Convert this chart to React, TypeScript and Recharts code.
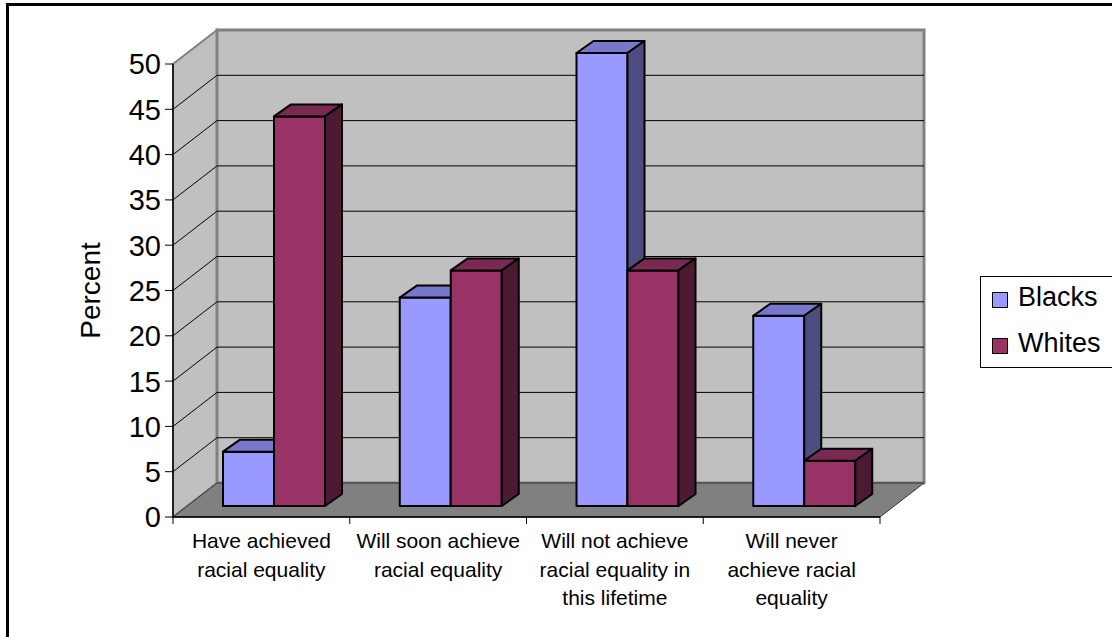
import React from "react";
import { BarChart, Bar, XAxis, YAxis, CartesianGrid } from "recharts";

const categories = [
  ["Have achieved", "racial equality"],
  ["Will soon achieve", "racial equality"],
  ["Will not achieve", "racial equality in", "this lifetime"],
  ["Will never", "achieve racial", "equality"],
];
const blacks = [6, 23, 50, 21];
const whites = [43, 26, 26, 5];
const yTicks = [0, 5, 10, 15, 20, 25, 30, 35, 40, 45, 50];

const series = [
  { key: "Blacks", values: blacks, front: "#9999ff", top: "#7777cc", side: "#4d4d80" },
  { key: "Whites", values: whites, front: "#993366", top: "#7a2952", side: "#4d1a33" },
];

const data = categories.map((lines, i) => ({
  name: lines.join(" "),
  Blacks: blacks[i],
  Whites: whites[i],
}));

// oblique offsets: whole plot box depth, bar row offset, single bar depth
const WALL_DX = 44;
const WALL_DY = 34;
const ROW_DX = 13;
const ROW_DY = 11;
const BAR_DX = 17;
const BAR_DY = 12;

const FONT = "'Liberation Sans', Arial, sans-serif";

// walls + floor drawn with the first grid line, then each line on the back wall and side wall
const gridLine = (p: any) => {
  const { x1, x2, y1, index, y, height } = p;
  const top = y;
  const bottom = y + height;
  const isEdge = Math.abs(y1 - top) < 0.5 || Math.abs(y1 - bottom) < 0.5;
  return (
    <g key={p.key ?? `g-${index}`}>
      {index === 0 && (
        <g>
          <polygon
            points={`${x1},${top} ${x1 + WALL_DX},${top - WALL_DY} ${x1 + WALL_DX},${bottom - WALL_DY} ${x1},${bottom}`}
            fill="#c0c0c0"
            stroke="#808080"
            strokeWidth={2}
          />
          <rect
            x={x1 + WALL_DX}
            y={top - WALL_DY}
            width={x2 - x1}
            height={height}
            fill="#c0c0c0"
            stroke="#808080"
            strokeWidth={3}
          />
          <polygon
            points={`${x1},${bottom} ${x1 + WALL_DX},${bottom - WALL_DY} ${x2 + WALL_DX},${bottom - WALL_DY} ${x2},${bottom}`}
            fill="#808080"
            stroke="#333"
            strokeWidth={1}
          />
        </g>
      )}
      {!isEdge && (
        <g stroke="#000" strokeWidth={1}>
          <line x1={x1} y1={y1} x2={x1 + WALL_DX} y2={y1 - WALL_DY} />
          <line x1={x1 + WALL_DX} y1={y1 - WALL_DY} x2={x2 + WALL_DX} y2={y1 - WALL_DY} />
        </g>
      )}
    </g>
  );
};

const makeBox = (front: string, topFill: string, side: string) => (p: any) => {
  const { x, y, width, height } = p;
  if (height == null || width == null) return <g />;
  const fx = x + ROW_DX;
  const fy = y - ROW_DY;
  const r = fx + width;
  const b = fy + height;
  return (
    <g stroke="#000" strokeWidth={2} strokeLinejoin="round">
      <rect x={fx} y={fy} width={width} height={height} fill={front} />
      <polygon
        points={`${fx},${fy} ${fx + BAR_DX},${fy - BAR_DY} ${r + BAR_DX},${fy - BAR_DY} ${r},${fy}`}
        fill={topFill}
      />
      <polygon
        points={`${r},${fy} ${r + BAR_DX},${fy - BAR_DY} ${r + BAR_DX},${b - BAR_DY} ${r},${b}`}
        fill={side}
      />
    </g>
  );
};

const CategoryTick = (p: any) => {
  const { x, y, payload, index } = p;
  const half = payload?.offset || 88.4;
  const lines = categories[index] || [];
  const last = index === categories.length - 1;
  return (
    <g>
      <line x1={x - half} y1={y} x2={x - half} y2={y + 7} stroke="#000" />
      {last && <line x1={x + half} y1={y} x2={x + half} y2={y + 7} stroke="#000" />}
      <text x={x} y={y} textAnchor="middle" fontSize={21} fontFamily={FONT} fill="#000">
        {lines.map((t, i) => (
          <tspan key={i} x={x} y={y + 31 + i * 28.5}>
            {t}
          </tspan>
        ))}
      </text>
    </g>
  );
};

const ValueTick = (p: any) => {
  const { x, y, payload } = p;
  return (
    <text x={x} y={y} dy="0.36em" textAnchor="end" fontSize={29} fontFamily={FONT} fill="#000">
      {payload.value}
    </text>
  );
};

const PercentLabel = (p: any) => {
  const vb = p.viewBox || {};
  const cx = vb.x - 3;
  const cy = vb.y + vb.height / 2;
  return (
    <text
      x={cx}
      y={cy}
      transform={`rotate(-90 ${cx} ${cy})`}
      textAnchor="middle"
      dominantBaseline="central"
      fontSize={28}
      fontFamily={FONT}
      fill="#000"
    >
      Percent
    </text>
  );
};

export default function App() {
  return (
    <div
      style={{
        position: "absolute",
        left: 0,
        top: 0,
        width: 1112,
        height: 637,
        overflow: "hidden",
        background: "#fff",
        fontFamily: FONT,
      }}
    >
      <div
        style={{
          position: "absolute",
          left: 6,
          top: 3,
          width: 1200,
          height: 700,
          borderLeft: "3px solid #000",
          borderTop: "3px solid #000",
        }}
      />
      <div style={{ position: "absolute", left: 0, top: 0 }}>
        <BarChart
          width={1112}
          height={637}
          data={data}
          margin={{ top: 64, right: 232, bottom: 20, left: 93 }}
          barCategoryGap={37}
          barGap={0}
        >
          <CartesianGrid vertical={false} horizontal={gridLine} />
          <XAxis
            dataKey="name"
            height={100}
            interval={0}
            tickSize={0}
            tickMargin={0}
            tickLine={false}
            axisLine={{ stroke: "#000", strokeWidth: 1.5 }}
            tick={<CategoryTick />}
          />
          <YAxis
            domain={[0, 50]}
            ticks={yTicks}
            interval={0}
            width={80}
            tickSize={8}
            tickMargin={4}
            axisLine={{ stroke: "#000", strokeWidth: 1.5 }}
            tickLine={{ stroke: "#000" }}
            tick={<ValueTick />}
            label={<PercentLabel />}
          />
          {series.map((s) => (
            <Bar
              key={s.key}
              dataKey={s.key}
              isAnimationActive={false}
              shape={makeBox(s.front, s.top, s.side)}
            />
          ))}
        </BarChart>
      </div>
      <div
        style={{
          position: "absolute",
          left: 980,
          top: 276,
          width: 140,
          height: 92,
          border: "1px solid #000",
          boxSizing: "border-box",
          background: "#fff",
        }}
      >
        {series.map((s, i) => (
          <div key={s.key}>
            <div
              style={{
                position: "absolute",
                left: 11,
                top: 15 + i * 46,
                width: 16,
                height: 16,
                background: s.front,
                border: "1.5px solid #000",
                boxSizing: "border-box",
              }}
            />
            <div
              style={{
                position: "absolute",
                left: 37,
                top: 7 + i * 46,
                fontSize: 27,
                lineHeight: "27px",
                color: "#000",
                whiteSpace: "nowrap",
              }}
            >
              {s.key}
            </div>
          </div>
        ))}
      </div>
    </div>
  );
}
